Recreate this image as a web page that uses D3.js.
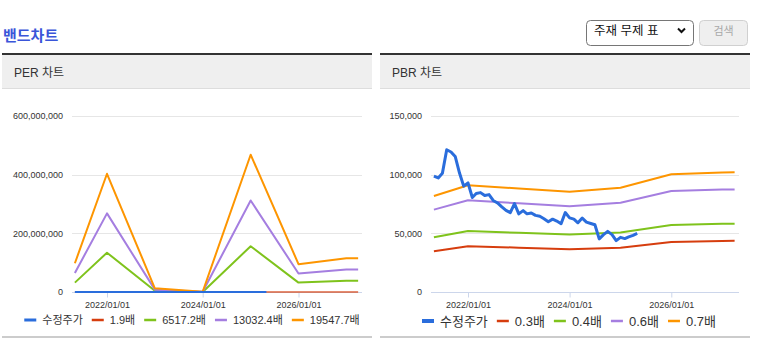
<!DOCTYPE html>
<html>
<head>
<meta charset="utf-8">
<script src="https://cdn.jsdelivr.net/npm/d3@7"></script>
<style>
  body { margin: 0; background: #fff; }
  svg { display: block; font-family: "Liberation Sans", Arial, "Noto Sans CJK KR", sans-serif; }
</style>
</head>
<body>
<div id="chart"></div>
<script>
// band vertices (annual, plus start/end of range)
const bandDates = ["2021-05-01", "2022-01-01", "2023-01-01", "2024-01-01", "2025-01-01", "2026-01-01", "2027-01-01", "2027-04-01"];

// PER band values
const per19 = [9300, 39000, 1200, 90, 45500, 9300, 11100, 11100];
const per6517 = [32e6, 134e6, 4e6, 0.3e6, 156e6, 32e6, 38e6, 38e6];
const per13032 = [65e6, 268e6, 8e6, 0.6e6, 312e6, 63e6, 77e6, 77e6];
const per19547 = [98e6, 403e6, 12.5e6, 0.9e6, 468e6, 95e6, 115e6, 115e6];

// PBR band values
const pbr03 = [34800, 39000, 37800, 36500, 37700, 42700, 43500, 43600];
const pbr04 = [46600, 52000, 50400, 48900, 50800, 57100, 58100, 58200];
const pbr06 = [70200, 78200, 75600, 73100, 76100, 86000, 87300, 87400];
const pbr07 = [81800, 91000, 88200, 85400, 88800, 100300, 101800, 102000];

// adjusted price, monthly from 2021/05 to 2025/05
const priceStart = "2021-05-01";
const priceValues = [
  98700, 97200, 101200, 121200, 119300, 115500, 101400, 90200, 93000, 80500,
  83900, 84700, 82200, 83000, 78000, 75900, 72500, 69600, 67700, 75300,
  66600, 69400, 66600, 67400, 65300, 64500, 62400, 59900, 62100, 60500,
  58200, 67700, 63200, 62100, 59000, 63000, 59600, 58400, 57300, 45300,
  48900, 51700, 48900, 43800, 46600, 45500, 47000, 48300, 50000
];

const xTickLabels = ["2022-01-01", "2024-01-01", "2026-01-01"];
const perTicks = [0, 200000000, 400000000, 600000000];
const pbrTicks = [0, 50000, 100000, 150000];

const PRICE_COLOR = "#2a6ddc";
const BAND_COLORS = ["#d63d0e", "#7fc31c", "#a57ee0", "#fd9500"];

const parse = d3.timeParse("%Y-%m-%d");
const priceDates = d3.timeMonth.range(parse(priceStart), d3.timeMonth.offset(parse(priceStart), priceValues.length));
const price = priceValues.map((v, i) => ({ date: priceDates[i], value: v }));
const toSeries = (vals) => vals.map((v, i) => ({ date: parse(bandDates[i]), value: v }));

const svg = d3.select("#chart").append("svg").attr("width", 757).attr("height", 351);

// page title
svg.append("text").attr("x", 3).attr("y", 41)
  .attr("fill", "#3a55d9").attr("font-size", "15px").attr("font-weight", "bold")
  .text("밴드차트");

// select box + button
svg.append("rect").attr("x", 586.5).attr("y", 20.5).attr("width", 107).attr("height", 25).attr("rx", 4)
  .attr("fill", "#fff").attr("stroke", "#767676");
svg.append("text").attr("x", 594).attr("y", 35).attr("font-size", "12.5px").attr("fill", "#111").text("주재 무제 표");
svg.append("path").attr("d", "M678,28.5 L681.5,32 L685,28.5")
  .attr("fill", "none").attr("stroke", "#111").attr("stroke-width", 2);
svg.append("rect").attr("x", 699.5).attr("y", 20.5).attr("width", 48).attr("height", 25).attr("rx", 4)
  .attr("fill", "#efefef").attr("stroke", "#d0d0d0");
svg.append("text").attr("x", 723.5).attr("y", 34.5).attr("text-anchor", "middle")
  .attr("font-size", "11px").attr("fill", "#a8a8a8").text("검색");

function drawPanel(cfg) {
  const g = svg.append("g");
  const w = cfg.right - cfg.left;

  // panel frame
  g.append("rect").attr("x", cfg.left).attr("y", 55).attr("width", w).attr("height", 33).attr("fill", "#efefef");
  g.append("rect").attr("x", cfg.left).attr("y", 53).attr("width", w).attr("height", 2).attr("fill", "#333");
  g.append("rect").attr("x", cfg.left).attr("y", 88).attr("width", w).attr("height", 1).attr("fill", "#ddd");
  g.append("rect").attr("x", cfg.left).attr("y", 336).attr("width", w).attr("height", 2).attr("fill", "#ccc");
  g.append("text").attr("x", cfg.left + 12).attr("y", 77)
    .attr("font-size", "12px").attr("fill", "#333").text(cfg.title);

  // scales
  const x = d3.scaleTime().domain([parse("2022-01-01"), parse("2026-01-01")]).range(cfg.xRange);
  const y = d3.scaleLinear().domain([0, cfg.ticks[cfg.ticks.length - 1]]).range([292, 116]);

  // grid
  g.append("g").selectAll("line")
    .data(cfg.ticks.slice(1))
    .join("line")
    .attr("x1", cfg.grid[0]).attr("x2", cfg.grid[1])
    .attr("y1", (d) => Math.round(y(d)) + 0.5).attr("y2", (d) => Math.round(y(d)) + 0.5)
    .attr("stroke", "#e6e6e6");

  // y axis labels
  const yAxisG = g.append("g").attr("transform", `translate(${cfg.grid[0] - 9},0)`)
    .call(d3.axisLeft(y).tickValues(cfg.ticks).tickFormat(d3.format(",")).tickSize(0).tickPadding(0));
  yAxisG.select(".domain").remove();
  yAxisG.selectAll("text").attr("font-size", "9px").attr("fill", "#333")
    .attr("font-family", "\"Liberation Sans\", Arial, sans-serif");

  // x axis
  const xAxisG = g.append("g").attr("transform", "translate(0,292.5)")
    .call(d3.axisBottom(x).tickValues(xTickLabels.map(parse)).tickFormat(d3.timeFormat("%Y/%m/%d"))
      .tickSize(5).tickPadding(4));
  xAxisG.select(".domain").remove();
  xAxisG.selectAll("line").attr("stroke", "#ccd6eb");
  xAxisG.selectAll("text").attr("font-size", "9px").attr("fill", "#333")
    .attr("font-family", "\"Liberation Sans\", Arial, sans-serif");
  g.append("line").attr("x1", cfg.grid[0]).attr("x2", cfg.grid[1])
    .attr("y1", 292.5).attr("y2", 292.5).attr("stroke", "#ccd6eb");

  // lines
  const line = d3.line().x((d) => x(d.date)).y((d) => y(d.value));
  cfg.bands.forEach((vals, i) => {
    g.append("path").attr("d", line(toSeries(vals)))
      .attr("fill", "none").attr("stroke", BAND_COLORS[i])
      .attr("stroke-width", 2).attr("stroke-linejoin", "round")
      .attr("opacity", i === 0 ? cfg.firstOpacity : 1);
  });
  g.append("path").attr("d", line(price))
    .attr("fill", "none").attr("stroke", PRICE_COLOR)
    .attr("stroke-width", cfg.priceWidth).attr("stroke-linejoin", "round");

  // legend
  const items = [{ label: "수정주가", color: PRICE_COLOR, w: cfg.priceWidth + 1 }]
    .concat(cfg.labels.map((l, i) => ({ label: l, color: BAND_COLORS[i], w: 2.5 })));
  const leg = g.append("g");
  let cx = 0;
  items.forEach((it) => {
    leg.append("line").attr("x1", cx).attr("x2", cx + 12).attr("y1", 0).attr("y2", 0)
      .attr("stroke", it.color).attr("stroke-width", it.w);
    const t = leg.append("text").attr("x", cx + 18).attr("y", 0).attr("dy", "0.35em")
      .attr("font-size", cfg.legendFont).attr("fill", "#333").text(it.label);
    cx += 18 + t.node().getComputedTextLength() + 9;
  });
  const total = cx - 9;
  leg.attr("transform", `translate(${cfg.legendCenter - total / 2},${cfg.legendY})`);
}

drawPanel({
  left: 2, right: 372, title: "PER 차트",
  xRange: [107, 298.5], grid: [72, 362], ticks: perTicks,
  bands: [per19, per6517, per13032, per19547],
  labels: ["1.9배", "6517.2배", "13032.4배", "19547.7배"],
  priceWidth: 2, firstOpacity: 0.6,
  legendCenter: 192, legendY: 320, legendFont: "11px"
});

drawPanel({
  left: 380, right: 750, title: "PBR 차트",
  xRange: [468, 671.3], grid: [431, 739], ticks: pbrTicks,
  bands: [pbr03, pbr04, pbr06, pbr07],
  labels: ["0.3배", "0.4배", "0.6배", "0.7배"],
  priceWidth: 3, firstOpacity: 1,
  legendCenter: 569, legendY: 321, legendFont: "13px"
});
</script>
</body>
</html>
